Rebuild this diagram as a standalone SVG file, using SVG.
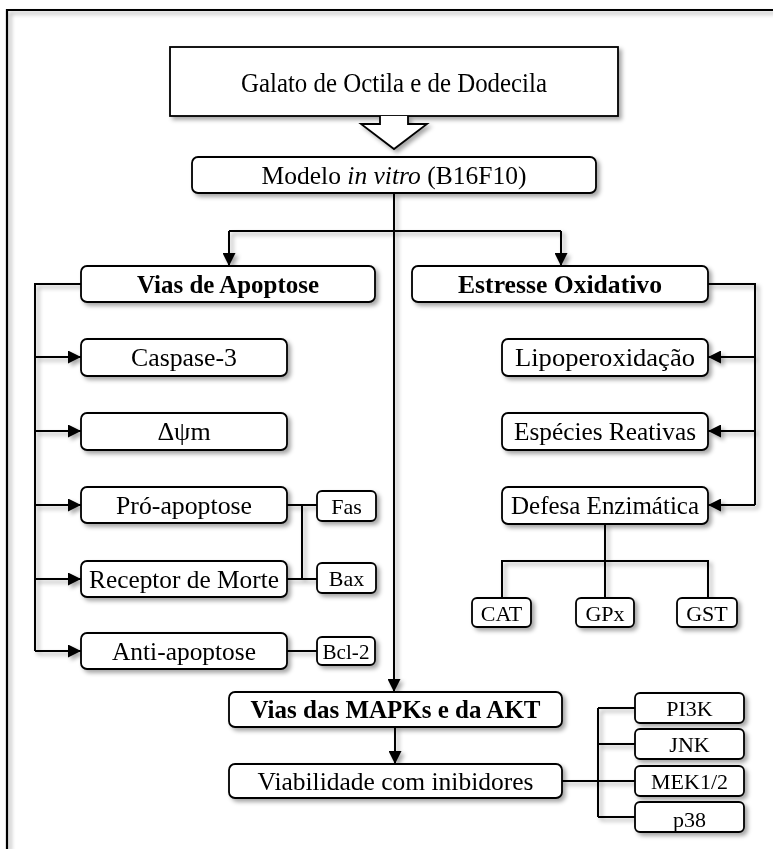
<svg xmlns="http://www.w3.org/2000/svg" width="773" height="849" viewBox="0 0 773 849">
<defs>
  <filter id="sh" x="-10%" y="-10%" width="130%" height="150%">
    <feDropShadow dx="3" dy="3" stdDeviation="2" flood-color="#000" flood-opacity="0.35"/>
  </filter>
  <marker id="ah" markerUnits="userSpaceOnUse" markerWidth="13" markerHeight="13" viewBox="0 0 13 13" refX="13" refY="6.5" orient="auto">
    <path d="M0,0 L13,6.5 L0,13 z" fill="#000"/>
  </marker>
</defs>
<style>
  .box{fill:#fff;stroke:#000;stroke-width:1.8}
  .t{font-family:"Liberation Serif","Times New Roman",serif;font-size:26px;fill:#000;text-anchor:middle}
  .b{font-weight:bold;font-size:25px}
  .s{font-size:22px}
  .g{font-size:28px}
  .ln{fill:none;stroke:#000;stroke-width:2}
  .ar{fill:none;stroke:#000;stroke-width:2;marker-end:url(#ah)}
</style>
<rect x="0" y="0" width="773" height="849" fill="#fff"/>

<g id="frame" filter="url(#sh)">
  <path d="M7,849 V10 H773" fill="none" stroke="#000" stroke-width="2.2"/>
</g>

<g id="connectors" filter="url(#sh)">
  <path class="ar" d="M394,193 V692"/>
  <path class="ln" d="M229,231 H561"/>
  <path class="ar" d="M229,231 V266"/>
  <path class="ar" d="M561,231 V266"/>
  <path class="ln" d="M81,284 H35 V651"/>
  <path class="ar" d="M35,357 H81"/>
  <path class="ar" d="M35,431 H81"/>
  <path class="ar" d="M35,505 H81"/>
  <path class="ar" d="M35,579 H81"/>
  <path class="ar" d="M35,651 H81"/>
  <path class="ln" d="M708,284 H755 V505"/>
  <path class="ar" d="M755,357 H708"/>
  <path class="ar" d="M755,431 H708"/>
  <path class="ar" d="M755,505 H708"/>
  <path class="ln" d="M287,505 H317 M287,579 H317 M302,505 V579"/>
  <path class="ln" d="M287,651 H317"/>
  <path class="ln" d="M605,524 V561 M502,598 V561 H708 V598 M605,561 V598"/>
  <path class="ar" d="M395,727 V764"/>
  <path class="ln" d="M562,781 H598" stroke-width="2.6"/>
  <path class="ln" d="M598,708 V817 M598,708 H635 M598,744 H635 M598,781 H635 M598,817 H635"/>
</g>

<g id="galato" filter="url(#sh)">
  <rect class="box" x="170" y="47" width="448" height="69"/>
  <text class="t g" x="394" y="92" textLength="306" lengthAdjust="spacingAndGlyphs">Galato de Octila e de Dodecila</text>
</g>
<g id="block-arrow" filter="url(#sh)">
  <path d="M380,116 V124 H361 L394,149 L427,124 H408 V116" fill="#fff" stroke="#000" stroke-width="1.8"/>
</g>
<g id="modelo" filter="url(#sh)">
  <rect class="box" x="192" y="157" width="404" height="36" rx="6"/>
  <text class="t" x="394" y="184" textLength="265" lengthAdjust="spacingAndGlyphs">Modelo <tspan font-style="italic">in vitro</tspan> (B16F10)</text>
</g>

<g id="vias-apoptose" filter="url(#sh)">
  <rect class="box" x="81" y="266" width="294" height="36" rx="6"/>
  <text class="t b" x="228" y="293" textLength="182" lengthAdjust="spacingAndGlyphs">Vias de Apoptose</text>
</g>
<g id="estresse" filter="url(#sh)">
  <rect class="box" x="412" y="266" width="296" height="36" rx="6"/>
  <text class="t b" x="560" y="293" textLength="204" lengthAdjust="spacingAndGlyphs">Estresse Oxidativo</text>
</g>

<g id="caspase" filter="url(#sh)">
  <rect class="box" x="81" y="339" width="206" height="37" rx="6"/>
  <text class="t" x="184" y="366" textLength="106" lengthAdjust="spacingAndGlyphs">Caspase-3</text>
</g>
<g id="dpsim" filter="url(#sh)">
  <rect class="box" x="81" y="413" width="206" height="37" rx="6"/>
  <text class="t" x="184" y="440">Δψm</text>
</g>
<g id="pro-apoptose" filter="url(#sh)">
  <rect class="box" x="81" y="487" width="206" height="36" rx="6"/>
  <text class="t" x="184" y="514" textLength="136" lengthAdjust="spacingAndGlyphs">Pró-apoptose</text>
</g>
<g id="receptor" filter="url(#sh)">
  <rect class="box" x="81" y="561" width="206" height="36" rx="6"/>
  <text class="t" x="184" y="588" textLength="190" lengthAdjust="spacingAndGlyphs">Receptor de Morte</text>
</g>
<g id="anti-apoptose" filter="url(#sh)">
  <rect class="box" x="81" y="633" width="206" height="36" rx="6"/>
  <text class="t" x="184" y="660" textLength="144" lengthAdjust="spacingAndGlyphs">Anti-apoptose</text>
</g>
<g id="fas" filter="url(#sh)">
  <rect class="box" x="317" y="491" width="59" height="30" rx="5"/>
  <text class="t s" x="346.5" y="514">Fas</text>
</g>
<g id="bax" filter="url(#sh)">
  <rect class="box" x="317" y="563" width="59" height="30" rx="5"/>
  <text class="t s" x="346.5" y="586">Bax</text>
</g>
<g id="bcl2" filter="url(#sh)">
  <rect class="box" x="317" y="637" width="58" height="28" rx="5"/>
  <text class="t s" x="346" y="659" textLength="47" lengthAdjust="spacingAndGlyphs">Bcl-2</text>
</g>

<g id="lipo" filter="url(#sh)">
  <rect class="box" x="502" y="339" width="206" height="37" rx="6"/>
  <text class="t" x="605" y="366" textLength="180" lengthAdjust="spacingAndGlyphs">Lipoperoxidação</text>
</g>
<g id="especies" filter="url(#sh)">
  <rect class="box" x="502" y="413" width="206" height="37" rx="6"/>
  <text class="t" x="605" y="440" textLength="182" lengthAdjust="spacingAndGlyphs">Espécies Reativas</text>
</g>
<g id="defesa" filter="url(#sh)">
  <rect class="box" x="502" y="487" width="206" height="37" rx="6"/>
  <text class="t" x="605" y="514" textLength="188" lengthAdjust="spacingAndGlyphs">Defesa Enzimática</text>
</g>
<g id="cat" filter="url(#sh)">
  <rect class="box" x="472" y="598" width="59" height="29" rx="5"/>
  <text class="t s" x="501.5" y="621">CAT</text>
</g>
<g id="gpx" filter="url(#sh)">
  <rect class="box" x="576" y="598" width="58" height="29" rx="5"/>
  <text class="t s" x="605" y="621">GPx</text>
</g>
<g id="gst" filter="url(#sh)">
  <rect class="box" x="677" y="598" width="60" height="29" rx="5"/>
  <text class="t s" x="707" y="621">GST</text>
</g>

<g id="mapks" filter="url(#sh)">
  <rect class="box" x="229" y="692" width="333" height="35" rx="6"/>
  <text class="t b" x="395.5" y="718" textLength="290" lengthAdjust="spacingAndGlyphs">Vias das MAPKs e da AKT</text>
</g>
<g id="viabilidade" filter="url(#sh)">
  <rect class="box" x="229" y="764" width="333" height="34" rx="6"/>
  <text class="t" x="395.5" y="790" textLength="276" lengthAdjust="spacingAndGlyphs">Viabilidade com inibidores</text>
</g>
<g id="pi3k" filter="url(#sh)">
  <rect class="box" x="635" y="693" width="109" height="30" rx="5"/>
  <text class="t s" x="689.5" y="716">PI3K</text>
</g>
<g id="jnk" filter="url(#sh)">
  <rect class="box" x="635" y="729" width="109" height="30" rx="5"/>
  <text class="t s" x="689.5" y="752">JNK</text>
</g>
<g id="mek" filter="url(#sh)">
  <rect class="box" x="635" y="766" width="109" height="30" rx="5"/>
  <text class="t s" x="689.5" y="789" textLength="77" lengthAdjust="spacingAndGlyphs">MEK1/2</text>
</g>
<g id="p38" filter="url(#sh)">
  <rect class="box" x="635" y="802" width="109" height="30" rx="5"/>
  <text class="t s" x="689.5" y="827">p38</text>
</g>
</svg>
